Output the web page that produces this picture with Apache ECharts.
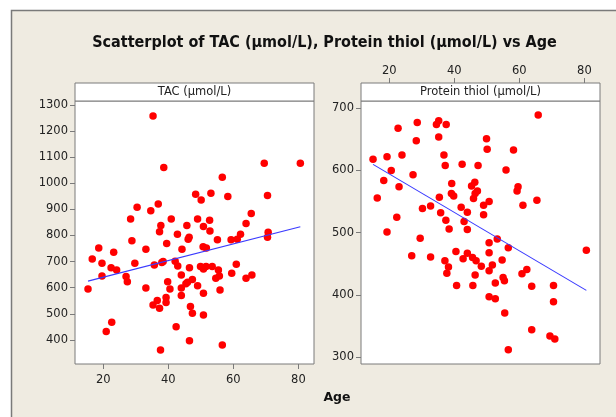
<!DOCTYPE html>
<html>
<head>
<meta charset="utf-8">
<script src="https://cdn.jsdelivr.net/npm/echarts@6/dist/echarts.min.js"></script>
<style>html,body{margin:0;padding:0;background:#fff;}#c{width:616px;height:417px;}</style>
</head>
<body>
<div id="c"></div>
<script>
var titleText = 'Scatterplot of TAC (µmol/L), Protein thiol (µmol/L) vs Age';
var panelNames = ['TAC (µmol/L)', 'Protein thiol (µmol/L)'];
var xLabel = 'Age';
var ageTicks = [20, 40, 60, 80];
var tacTicks = [400, 500, 600, 700, 800, 900, 1000, 1100, 1200, 1300];
var thiolTicks = [300, 400, 500, 600, 700];

var ageTAC = [35.3,38.6,69.5,80.6,56.6,48.4,50.1,53.1,58.3,70.5,30.4,34.6,36.9,28.4,40.9,49.0,52.7,65.5,37.7,45.7,63.9,50.8,37.3,52.8,42.8,46.4,46.1,55.1,59.3,61.2,62.2,70.7,70.5,28.8,39.5,18.6,23.2,33.1,44.2,50.7,51.7,16.6,19.6,29.7,35.7,38.0,38.4,42.1,42.9,46.5,49.9,50.8,51.6,53.5,55.4,60.9,22.4,24.1,19.6,44.0,27.0,27.4,33.1,39.8,40.5,45.4,45.9,47.4,49.0,44.0,54.6,55.7,55.9,59.5,63.9,65.7,15.3,44.0,50.8,35.3,36.6,37.3,39.3,39.3,46.8,47.4,50.8,22.6,20.9,42.4,46.5,37.6,56.6];
var tac = [1258,1060,1077,1077,1023,958,936,962,949,953,908,895,921,863,863,863,858,884,838,838,846,834,814,817,805,793,786,784,784,786,805,812,793,780,769,752,736,747,747,757,752,710,694,694,687,697,700,701,683,677,681,672,681,681,668,690,677,668,645,649,643,623,599,623,595,615,621,632,608,599,636,645,591,655,636,649,595,570,579,534,551,521,563,543,528,502,496,468,432,451,397,362,381];

var ageThiol = [65.8,28.6,35.2,34.5,37.5,22.7,35.2,28.3,49.9,50.1,58.2,15.0,19.3,23.9,36.8,37.2,42.4,47.3,20.6,55.9,27.3,18.3,23.0,39.2,45.3,46.3,59.6,59.3,39.1,39.8,47.1,46.4,45.9,16.3,35.4,50.7,49.0,61.1,65.4,30.2,32.7,42.1,44.0,35.8,49.0,22.3,37.4,43.0,38.4,44.0,19.3,29.5,53.2,50.7,56.6,80.6,40.5,50.7,26.9,32.7,42.7,44.0,45.6,46.7,54.7,37.1,48.3,51.7,38.2,50.7,62.3,60.8,37.7,46.4,55.0,55.4,52.6,40.7,45.7,63.8,70.5,50.7,52.6,70.5,55.5,63.8,69.4,70.9,56.6];
var thiol = [689,677,680,674,674,668,654,648,651,634,633,618,622,625,625,608,610,608,600,601,593,584,574,579,575,581,574,567,563,559,567,563,555,556,557,550,544,544,552,539,543,541,533,532,529,525,520,518,506,505,501,491,490,484,476,472,470,468,463,461,458,467,460,455,456,455,446,448,445,439,441,434,435,432,428,423,419,415,415,414,415,397,394,389,371,344,334,329,312];

function pairs(xs, ys) { return xs.map(function (x, i) { return [x, ys[i]]; }); }
function fit(xs, ys) {
  var n = xs.length, mx = 0, my = 0, sxy = 0, sxx = 0;
  for (var i = 0; i < n; i++) { mx += xs[i]; my += ys[i]; }
  mx /= n; my /= n;
  for (var j = 0; j < n; j++) { sxy += (xs[j] - mx) * (ys[j] - my); sxx += (xs[j] - mx) * (xs[j] - mx); }
  var b = sxy / sxx, a = my - b * mx;
  var x0 = Math.min.apply(null, xs), x1 = Math.max.apply(null, xs);
  return [[x0, a + b * x0], [x1, a + b * x1]];
}

var FONT = 'DejaVu Sans';
var frame = '#7a7a7a';
var txt = '#222';
var G1 = {left: 75, top: 101, width: 239, height: 263};
var G2 = {left: 361, top: 101, width: 239, height: 263};
var STRIP = 18;
function plain(v) { return String(v); }

function xAxisCfg(grid, pos, offset, margin) {
  return {
    type: 'value', gridIndex: grid, position: pos, offset: offset, min: 11.3, max: 84.8,
    axisLine: {show: false}, splitLine: {show: false},
    axisTick: {show: true, inside: false, length: 5, lineStyle: {color: frame}, customValues: ageTicks},
    axisLabel: {show: true, color: txt, fontFamily: FONT, fontSize: 11.5, margin: margin, customValues: ageTicks, formatter: plain}
  };
}
function yAxisCfg(grid, mn, mx, ticks) {
  return {
    type: 'value', gridIndex: grid, min: mn, max: mx,
    axisLine: {show: false}, splitLine: {show: false},
    axisTick: {show: true, inside: false, length: 5, lineStyle: {color: frame}, customValues: ticks},
    axisLabel: {show: true, color: txt, fontFamily: FONT, fontSize: 11.5, margin: 7, customValues: ticks, formatter: plain}
  };
}
function stripGraphic(g, name) {
  return [{
    type: 'rect', z: 20, shape: {x: g.left, y: g.top - STRIP, width: g.width, height: STRIP},
    style: {fill: '#fff', stroke: frame, lineWidth: 1}
  }, {
    type: 'text', z: 21, x: g.left + g.width / 2, y: g.top - STRIP / 2,
    style: {text: name, fill: txt, font: '11.5px "' + FONT + '"', textAlign: 'center', textVerticalAlign: 'middle'}
  }];
}

var chart = echarts.init(document.getElementById('c'), null, {renderer: 'canvas'});
var fitStyle = {color: '#3a3aff', width: 1.1};
chart.setOption({
  backgroundColor: '#ffffff',
  animation: false,
  title: {
    text: titleText, left: 319.5, top: 30, textAlign: 'center',
    textStyle: {fontFamily: 'DejaVu Sans Condensed', fontWeight: 'bold', fontSize: 16, color: '#111'}
  },
  graphic: [{
    type: 'rect', z: -100, shape: {x: 11.5, y: 10.5, width: 700, height: 500},
    style: {fill: '#efebe1', stroke: '#7a7a7a', lineWidth: 1.5}
  }].concat(stripGraphic(G1, panelNames[0]), stripGraphic(G2, panelNames[1]), [{
    type: 'text', x: 337, y: 398,
    style: {text: xLabel, fill: '#111', font: 'bold 12.5px "' + FONT + '"', textAlign: 'center', textVerticalAlign: 'middle'}
  }]),
  grid: [
    {left: G1.left, top: G1.top, width: G1.width, height: G1.height, show: true, backgroundColor: '#fff', borderColor: frame, borderWidth: 1},
    {left: G2.left, top: G2.top, width: G2.width, height: G2.height, show: true, backgroundColor: '#fff', borderColor: frame, borderWidth: 1}
  ],
  xAxis: [xAxisCfg(0, 'bottom', 0, 10), xAxisCfg(1, 'top', STRIP, 6)],
  yAxis: [yAxisCfg(0, 308, 1315, tacTicks), yAxisCfg(1, 289, 711.7, thiolTicks)],
  series: [
    {type: 'scatter', xAxisIndex: 0, yAxisIndex: 0, data: pairs(ageTAC, tac), symbolSize: 7.5, itemStyle: {color: '#ff0000', opacity: 1}, z: 3},
    {type: 'line', xAxisIndex: 0, yAxisIndex: 0, data: fit(ageTAC, tac), symbol: 'none', lineStyle: fitStyle, z: 4},
    {type: 'scatter', xAxisIndex: 1, yAxisIndex: 1, data: pairs(ageThiol, thiol), symbolSize: 7.5, itemStyle: {color: '#ff0000', opacity: 1}, z: 3},
    {type: 'line', xAxisIndex: 1, yAxisIndex: 1, data: fit(ageThiol, thiol), symbol: 'none', lineStyle: fitStyle, z: 4}
  ]
});
</script>
</body>
</html>
